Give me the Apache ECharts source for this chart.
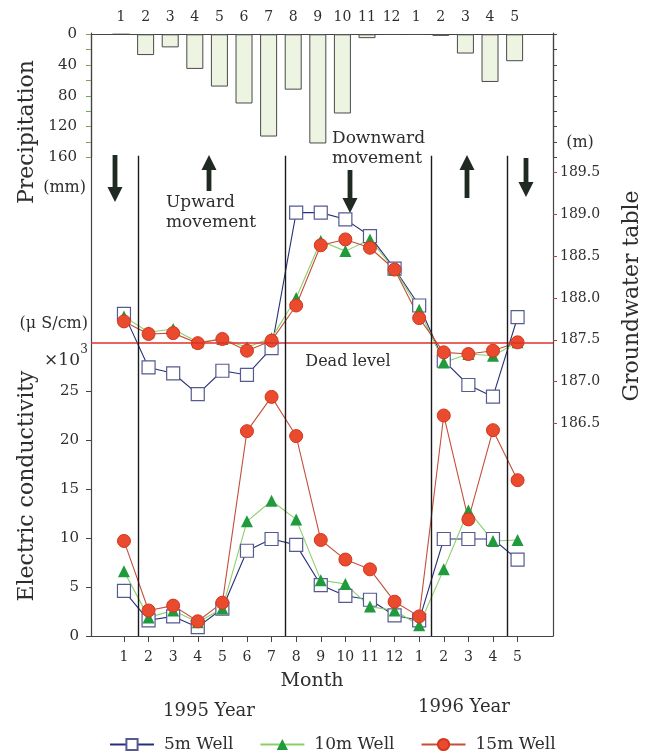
<!DOCTYPE html>
<html><head><meta charset="utf-8">
<script src="https://cdn.jsdelivr.net/npm/echarts@6/dist/echarts.min.js"></script>
<style>html,body{margin:0;padding:0;background:#fff}#c{width:652px;height:756px}</style>
</head><body><div id="c"></div>
<script>
// ---- data ----
const monthLabels = ['1','2','3','4','5','6','7','8','9','10','11','12','1','2','3','4','5'];
const precipitation = [0,27,17,45,68,90,133,72,142,103,5,0.5,0.5,2,25,62,35];
const gw5m  = [187.81,187.17,187.10,186.85,187.13,187.08,187.40,189.02,189.02,188.94,188.74,188.35,187.91,187.25,186.96,186.82,187.77];
const gw10m = [187.78,187.59,187.63,187.47,187.51,187.41,187.52,188.00,188.68,188.56,188.70,188.34,187.86,187.23,187.33,187.31,187.47];
const gw15m = [187.72,187.57,187.58,187.46,187.51,187.37,187.49,187.91,188.63,188.70,188.60,188.34,187.76,187.35,187.33,187.37,187.47];
const ec5m  = [4.6,1.6,2.0,0.9,2.8,8.7,9.9,9.3,5.2,4.1,3.7,2.1,1.6,9.9,9.9,9.9,7.8];
const ec10m = [6.6,1.9,2.6,1.4,2.8,11.7,13.8,11.9,5.7,5.3,3.0,2.6,1.1,6.8,12.8,9.7,9.8];
const ec15m = [9.7,2.6,3.1,1.5,3.4,20.9,24.4,20.4,9.8,7.8,6.8,3.5,2.0,22.5,11.9,21.0,15.9];
const ecTicks = [0,5,10,15,20,25];
const gwTicks = [186.5,187.0,187.5,188.0,188.5,189.0,189.5];
const precipTicks = [0,40,80,120,160];
const precipMinorTicks = [0,20,40,60,80,100,120,140,160];
const deadLevel = 187.46;
const seasonBoundaries = [0.57, 6.54, 12.5, 15.57];
const seasonTop = 49;
const seriesNames = ['5m Well','10m Well','15m Well'];

// ---- chart ----
const FONT = 'DejaVu Serif';
const TXT = '#2e2e2e';
const AX = '#444';
const monthIdx = monthLabels.map((m,i)=>i);
const pair = arr => arr.map((v,i)=>[i,v]);

function arrow(x, yFrom, yTo){
  const dir = yTo > yFrom ? 1 : -1;
  const head = 15, hw = 7.5, sw = 2.4;
  const yHeadBase = yTo - dir*head;
  return {
    type:'group', silent:true, children:[
      {type:'polygon', shape:{points:[
        [x-sw,yFrom],[x+sw,yFrom],[x+sw,yHeadBase],[x+hw,yHeadBase],[x,yTo],[x-hw,yHeadBase],[x-sw,yHeadBase]
      ]}, style:{fill:'#1f2a22'}}
    ]
  };
}
function txt(x,y,text,size,align,rot){
  return {type:'text', x:x, y:y, rotation: rot||0, silent:true,
    style:{text:text, fontFamily:FONT, fontSize:size, fill:TXT, align:align||'center', verticalAlign:'middle'}};
}

const chart = echarts.init(document.getElementById('c'), null, {renderer:'canvas'});
const option = {
  animation:false,
  backgroundColor:'#fff',
  textStyle:{fontFamily:FONT, color:TXT},
  grid:[
    {left:91, top:33, width:462, height:603},
    {left:91, top:34.3, width:462, height:123}
  ],
  xAxis:[
    {gridIndex:0, type:'value', min:-1.34, max:17.44, position:'bottom',
     axisLine:{show:true, onZero:false, lineStyle:{color:AX, width:1.2}},
     axisTick:{show:true, inside:false, length:6, customValues:monthIdx, lineStyle:{color:AX}},
     axisLabel:{show:true, customValues:monthIdx, margin:14, fontSize:14, fontFamily:FONT, color:TXT,
       formatter:v=>monthLabels[Math.round(v)]},
     splitLine:{show:false}},
    {gridIndex:1, type:'value', min:-1.22, max:17.56, position:'top',
     axisLine:{show:true, onZero:false, lineStyle:{color:AX, width:1.2}},
     axisTick:{show:false},
     axisLabel:{show:true, customValues:monthIdx, margin:10, fontSize:14, fontFamily:FONT, color:TXT,
       formatter:v=>monthLabels[Math.round(v)]},
     splitLine:{show:false}}
  ],
  yAxis:[
    {gridIndex:0, type:'value', position:'left', min:0, max:61.53,
     axisLine:{show:true, onZero:false, lineStyle:{color:AX, width:1.2}},
     axisTick:{show:true, length:5, customValues:ecTicks, lineStyle:{color:AX}},
     axisLabel:{customValues:ecTicks, margin:12, fontSize:15, fontFamily:FONT, color:TXT},
     splitLine:{show:false}},
    {gridIndex:0, type:'value', position:'right', min:183.96, max:191.167,
     axisLine:{show:true, onZero:false, lineStyle:{color:AX, width:1.2}},
     axisTick:{show:true, length:4, customValues:gwTicks, lineStyle:{color:'#b0443a'}},
     axisLabel:{customValues:gwTicks, margin:7, fontSize:14, fontFamily:FONT, color:TXT,
       formatter:v=>v.toFixed(1)},
     splitLine:{show:false}},
    {gridIndex:1, type:'value', position:'left', inverse:true, min:0, max:160,
     axisLine:{show:true, onZero:false, lineStyle:{color:AX, width:1.2}},
     axisTick:{show:true, length:5, customValues:precipMinorTicks, lineStyle:{color:'#7aa060'}},
     axisLabel:{customValues:precipTicks, margin:14, fontSize:15, fontFamily:FONT, color:TXT,
       padding:[6,0,0,0]},
     splitLine:{show:false}},
    {gridIndex:1, type:'value', position:'right', inverse:true, min:0, max:160,
     axisLine:{show:true, onZero:false, lineStyle:{color:AX, width:1.2}},
     axisTick:{show:true, length:4, customValues:precipMinorTicks, lineStyle:{color:AX}},
     axisLabel:{show:false},
     splitLine:{show:false}}
  ],
  legend:{
    left:104, top:731, itemWidth:44, itemHeight:14, itemGap:26,
    data:seriesNames,
    textStyle:{fontFamily:FONT, fontSize:17, color:TXT, padding:[0,0,0,5]}
  },
  series:[
    {type:'bar', name:'Precipitation', xAxisIndex:1, yAxisIndex:2, data:pair(precipitation),
     barWidth:17, itemStyle:{color:'#eef4e2', borderColor:'#4a4a4a', borderWidth:1}, silent:true},
    // groundwater table
    {type:'line', name:seriesNames[0], xAxisIndex:0, yAxisIndex:1, data:pair(gw5m),
     symbol:'rect', symbolSize:13, lineStyle:{color:'#27307a', width:1.1},
     itemStyle:{color:'#ffffff', borderColor:'#555b90', borderWidth:1.2},
     markLine:{silent:true, symbol:'none', label:{show:false},
       lineStyle:{color:'#e0302a', width:1.6, type:'solid'}, data:[{yAxis:deadLevel}]}},
    {type:'line', name:seriesNames[1], xAxisIndex:0, yAxisIndex:1, data:pair(gw10m),
     symbol:'triangle', symbolSize:12, lineStyle:{color:'#8ccf6a', width:1.1},
     itemStyle:{color:'#1f9a3c', borderColor:'#1f9a3c', borderWidth:0}},
    {type:'line', name:seriesNames[2], xAxisIndex:0, yAxisIndex:1, data:pair(gw15m),
     symbol:'circle', symbolSize:13, lineStyle:{color:'#c4503a', width:1.1},
     itemStyle:{color:'#ea4a2e', borderColor:'#d2361e', borderWidth:1}},
    // electric conductivity
    {type:'line', name:seriesNames[0], xAxisIndex:0, yAxisIndex:0, data:pair(ec5m),
     symbol:'rect', symbolSize:13, lineStyle:{color:'#27307a', width:1.1},
     itemStyle:{color:'#ffffff', borderColor:'#555b90', borderWidth:1.2},
     markLine:{silent:true, symbol:'none', label:{show:false},
       lineStyle:{color:'#1a1a1a', width:1.4, type:'solid'},
       data:seasonBoundaries.map(x=>[{coord:[x,seasonTop]},{coord:[x,0]}])}},
    {type:'line', name:seriesNames[1], xAxisIndex:0, yAxisIndex:0, data:pair(ec10m),
     symbol:'triangle', symbolSize:12, lineStyle:{color:'#8ccf6a', width:1.1},
     itemStyle:{color:'#1f9a3c', borderColor:'#1f9a3c', borderWidth:0}},
    {type:'line', name:seriesNames[2], xAxisIndex:0, yAxisIndex:0, data:pair(ec15m),
     symbol:'circle', symbolSize:13, lineStyle:{color:'#c4503a', width:1.1},
     itemStyle:{color:'#ea4a2e', borderColor:'#d2361e', borderWidth:1}}
  ],
  graphic:[
    txt(27,132,'Precipitation',22,'center',Math.PI/2),
    txt(86,188,'(mm)',16,'right'),
    txt(88,324,'(μ S/cm)',16,'right'),
    txt(80,361,'×10',17,'right'),
    txt(84,350,'3',12,'center'),
    txt(27,486,'Electric conductivity',22,'center',Math.PI/2),
    txt(580,143,'(m)',16,'center'),
    txt(632,296,'Groundwater table',22,'center',Math.PI/2),
    txt(166,203,'Upward',17,'left'),
    txt(166,223,'movement',17,'left'),
    txt(332,139,'Downward',17,'left'),
    txt(332,159,'movement',17,'left'),
    txt(348,362,'Dead level',16,'center'),
    txt(312,681,'Month',19,'center'),
    txt(209,711,'1995 Year',18,'center'),
    txt(464,707,'1996 Year',18,'center'),
    arrow(115,155,202),
    arrow(209,191,155),
    arrow(350,170,213),
    arrow(467,198,155),
    arrow(526,158,197)
  ]
};
chart.setOption(option);
</script>
</body></html>
